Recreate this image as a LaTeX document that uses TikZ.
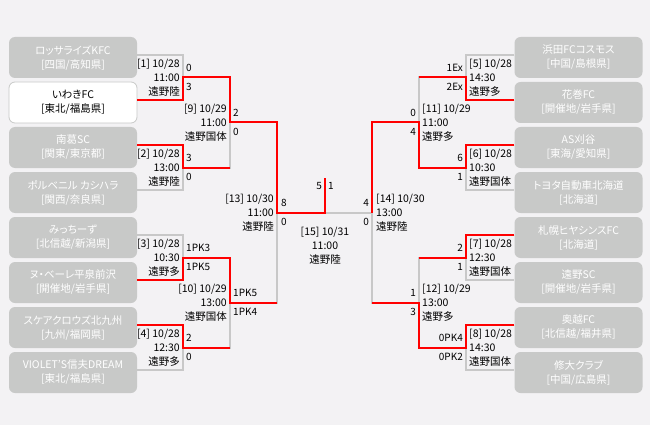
\documentclass[tikz,border=0pt]{standalone}
\usepackage{fontspec}
\setmainfont{Noto Sans CJK JP}[RawFeature=+palt]
\definecolor{bgc}{RGB}{243,242,244}
\definecolor{boxgray}{RGB}{200,201,200}
\definecolor{linegray}{RGB}{200,200,200}
\definecolor{winred}{RGB}{255,0,0}
\tikzset{
  tbox/.style={rounded corners=6pt, minimum width=128pt, minimum height=41pt, inner sep=0pt, align=center, font=\fontsize{10.5}{14}\selectfont},
  lose/.style={tbox, fill=boxgray, text=white},
  won/.style={tbox, fill=white, draw=boxgray, line width=0.8pt, text=black},
  gl/.style={draw=linegray, line width=2pt},
  rl/.style={draw=winred, line width=2pt},
  lblL/.style={anchor=east, align=right, inner sep=0pt, font=\fontsize{10.5}{14}\selectfont},
  lblR/.style={anchor=west, align=left, inner sep=0pt, font=\fontsize{10.5}{14}\selectfont},
  lblC/.style={anchor=center, align=center, inner sep=0pt, font=\fontsize{10.5}{14}\selectfont},
  scL/.style={anchor=west, inner sep=0pt, font=\fontsize{10}{12}\selectfont},
  scR/.style={anchor=east, inner sep=0pt, font=\fontsize{10}{12}\selectfont},
}
\begin{document}
\begin{tikzpicture}[x=1pt,y=-1pt]
\useasboundingbox (0,0) rectangle (650,425);
\fill[bgc] (0,0) rectangle (650,425);

% left teams
\node[lose] (L1) at (73,57.5)  {ロッサライズKFC\\{[四国/高知県]}};
\node[won]  (L2) at (73,102.5) {いわきFC\\{[東北/福島県]}};
\node[lose] (L3) at (73,147.5) {南葛SC\\{[関東/東京都]}};
\node[lose] (L4) at (73,192.5) {ポルベニル カシハラ\\{[関西/奈良県]}};
\node[lose] (L5) at (73,237.5) {みっちーず\\{[北信越/新潟県]}};
\node[lose] (L6) at (73,282.5) {ヌ・ベーレ平泉前沢\\{[開催地/岩手県]}};
\node[lose] (L7) at (73,327.5) {スケアクロウズ北九州\\{[九州/福岡県]}};
\node[lose] (L8) at (73,372.5) {VIOLET’S信夫DREAM\\{[東北/福島県]}};
% right teams
\node[lose] (R1) at (578.5,57.5)  {浜田FCコスモス\\{[中国/島根県]}};
\node[lose] (R2) at (578.5,102.5) {花巻FC\\{[開催地/岩手県]}};
\node[lose] (R3) at (578.5,147.5) {AS刈谷\\{[東海/愛知県]}};
\node[lose] (R4) at (578.5,192.5) {トヨタ自動車北海道\\{[北海道]}};
\node[lose] (R5) at (578.5,237.5) {札幌ヒヤシンスFC\\{[北海道]}};
\node[lose] (R6) at (578.5,282.5) {遠野SC\\{[開催地/岩手県]}};
\node[lose] (R7) at (578.5,327.5) {奥越FC\\{[北信越/福井県]}};
\node[lose] (R8) at (578.5,372.5) {修大クラブ\\{[中国/広島県]}};

% bracket coordinates
\coordinate (m1t) at (183,55);  \coordinate (m1) at (183,77.5);  \coordinate (m1b) at (183,100);
\coordinate (m2t) at (183,145); \coordinate (m2) at (183,167.5); \coordinate (m2b) at (183,190);
\coordinate (m3t) at (183,235); \coordinate (m3) at (183,257.5); \coordinate (m3b) at (183,280);
\coordinate (m4t) at (183,325); \coordinate (m4) at (183,347.5); \coordinate (m4b) at (183,370);
\coordinate (m9t) at (230,77.5);   \coordinate (m9) at (230,122.5);  \coordinate (m9b) at (230,167.5);
\coordinate (m10t) at (230,257.5); \coordinate (m10) at (230,302.5); \coordinate (m10b) at (230,347.5);
\coordinate (m13t) at (277,122.5); \coordinate (m13) at (277,212.5); \coordinate (m13b) at (277,302.5);
\coordinate (fin) at (325,212.5); \coordinate (fintop) at (325,178);
\coordinate (m14t) at (372,122.5); \coordinate (m14) at (372,212.5); \coordinate (m14b) at (372,302.5);
\coordinate (m11t) at (419,77.5);  \coordinate (m11) at (419,122.5); \coordinate (m11b) at (419,167.5);
\coordinate (m12t) at (419,257.5); \coordinate (m12) at (419,302.5); \coordinate (m12b) at (419,347.5);
\coordinate (m5t) at (466,55);  \coordinate (m5) at (466,77.5);  \coordinate (m5b) at (466,100);
\coordinate (m6t) at (466,145); \coordinate (m6) at (466,167.5); \coordinate (m6b) at (466,190);
\coordinate (m7t) at (466,235); \coordinate (m7) at (466,257.5); \coordinate (m7b) at (466,280);
\coordinate (m8t) at (466,325); \coordinate (m8) at (466,347.5); \coordinate (m8b) at (466,370);

% gray structure
\draw[gl] ([yshift=2.5pt]L1.east) -- (m1t) -- (m1b) -- ([yshift=2.5pt]L2.east);
\draw[gl] ([yshift=2.5pt]L3.east) -- (m2t) -- (m2b) -- ([yshift=2.5pt]L4.east);
\draw[gl] ([yshift=2.5pt]L5.east) -- (m3t) -- (m3b) -- ([yshift=2.5pt]L6.east);
\draw[gl] ([yshift=2.5pt]L7.east) -- (m4t) -- (m4b) -- ([yshift=2.5pt]L8.east);
\draw[gl] (m1) -- (m9t) -- (m9b) -- (m2);
\draw[gl] (m3) -- (m10t) -- (m10b) -- (m4);
\draw[gl] (m9) -- (m13t) -- (m13b) -- (m10);
\draw[gl] (m13) -- (m14);
\draw[gl] (m11) -- (m14t) -- (m14b) -- (m12);
\draw[gl] (m5) -- (m11t) -- (m11b) -- (m6);
\draw[gl] (m7) -- (m12t) -- (m12b) -- (m8);
\draw[gl] ([yshift=2.5pt]R1.west) -- (m5t) -- (m5b) -- ([yshift=2.5pt]R2.west);
\draw[gl] ([yshift=2.5pt]R3.west) -- (m6t) -- (m6b) -- ([yshift=2.5pt]R4.west);
\draw[gl] ([yshift=2.5pt]R5.west) -- (m7t) -- (m7b) -- ([yshift=2.5pt]R6.west);
\draw[gl] ([yshift=2.5pt]R7.west) -- (m8t) -- (m8b) -- ([yshift=2.5pt]R8.west);

% winner paths
\draw[rl] ([yshift=2.5pt]L2.east) -- (m1b) -- (m1) -- (m9t) -- (m9) -- (m13t) -- (m13) -- (fin) -- (fintop);
\draw[rl] ([yshift=2.5pt]L3.east) -- (m2t) -- (m2) -- (m9b);
\draw[rl] ([yshift=2.5pt]L6.east) -- (m3b) -- (m3) -- (m10t) -- (m10) -- (m13b);
\draw[rl] ([yshift=2.5pt]L7.east) -- (m4t) -- (m4) -- (m10b);
\draw[rl] ([yshift=2.5pt]R2.west) -- (m5b) -- (m5) -- (m11t);
\draw[rl] ([yshift=2.5pt]R3.west) -- (m6t) -- (m6) -- (m11b) -- (m11) -- (m14t) -- (m14);
\draw[rl] ([yshift=2.5pt]R5.west) -- (m7t) -- (m7) -- (m12t);
\draw[rl] ([yshift=2.5pt]R7.west) -- (m8t) -- (m8) -- (m12b) -- (m12) -- (m14b);

% match labels left
\node[lblL] (t1) at (180,77.5)  {{[1] 10/28}\\11:00\\遠野陸};
\node[lblL] (t2) at (180,167.5) {{[2] 10/28}\\13:00\\遠野陸};
\node[lblL] (t3) at (180,257.5) {{[3] 10/28}\\10:30\\遠野多};
\node[lblL] (t4) at (180,347.5) {{[4] 10/28}\\12:30\\遠野多};
\node[lblL] (t9) at (227,122.5) {{[9] 10/29}\\11:00\\遠野国体};
\node[lblL] (t10) at (227,302.5) {{[10] 10/29}\\13:00\\遠野国体};
\node[lblL] (t13) at (274,212.5) {{[13] 10/30}\\11:00\\遠野陸};
\node[lblC] (t15) at (325,245.5) {{[15] 10/31}\\11:00\\遠野陸};
\node[lblR] (t14) at (376,212.5) {{[14] 10/30}\\13:00\\遠野陸};
\node[lblR] (t11) at (422,122.5) {{[11] 10/29}\\11:00\\遠野多};
\node[lblR] (t12) at (422,302.5) {{[12] 10/29}\\13:00\\遠野多};
\node[lblR] (t5) at (469,77.5)  {{[5] 10/28}\\14:30\\遠野多};
\node[lblR] (t6) at (469,167.5) {{[6] 10/28}\\10:30\\遠野国体};
\node[lblR] (t7) at (469,257.5) {{[7] 10/28}\\12:30\\遠野国体};
\node[lblR] (t8) at (469,347.5) {{[8] 10/28}\\14:30\\遠野国体};

% scores
\node[scL] (s1a) at (186,68) {0};    \node[scL] (s1b) at (186,87) {3};
\node[scL] (s2a) at (186,158) {3};   \node[scL] (s2b) at (186,177) {0};
\node[scL] (s3a) at (186,248) {1PK3}; \node[scL] (s3b) at (186,267) {1PK5};
\node[scL] (s4a) at (186,338) {2};   \node[scL] (s4b) at (186,357) {0};
\node[scL] (s9a) at (233,113) {2};   \node[scL] (s9b) at (233,132) {0};
\node[scL] (s10a) at (233,293) {1PK5}; \node[scL] (s10b) at (233,312) {1PK4};
\node[scL] (s13a) at (281,203) {8};  \node[scL] (s13b) at (281,222) {0};
\node[scR] (s15a) at (322,186) {5};  \node[scL] (s15b) at (328,186) {1};
\node[scR] (s14a) at (369,203) {4};  \node[scR] (s14b) at (369,222) {0};
\node[scR] (s11a) at (416,113) {0};  \node[scR] (s11b) at (416,132) {4};
\node[scR] (s12a) at (416,293) {1};  \node[scR] (s12b) at (416,312) {3};
\node[scR] (s5a) at (463,68) {1Ex};  \node[scR] (s5b) at (463,87) {2Ex};
\node[scR] (s6a) at (463,158) {6};   \node[scR] (s6b) at (463,177) {1};
\node[scR] (s7a) at (463,248) {2};   \node[scR] (s7b) at (463,267) {1};
\node[scR] (s8a) at (463,338) {0PK4}; \node[scR] (s8b) at (463,357) {0PK2};
\end{tikzpicture}
\end{document}
